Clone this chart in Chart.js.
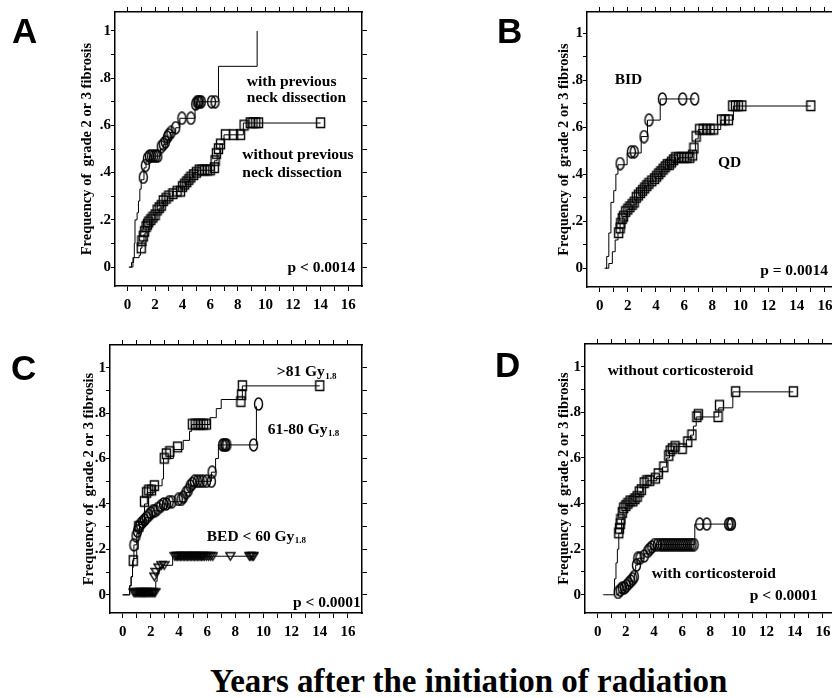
<!DOCTYPE html>
<html>
<head>
<meta charset="utf-8">
<script src="https://cdn.jsdelivr.net/npm/chart.js@4.4.1/dist/chart.umd.min.js"></script>
<style>
  html, body { margin: 0; padding: 0; background: #fff; width: 832px; height: 698px; overflow: hidden; position: relative; }
  canvas { position: absolute; }
  .letter { position: absolute; font: bold 35px "Liberation Sans", Arial, sans-serif; line-height: 1; }
  #xtitle { position: absolute; left: 210px; top: 665px; white-space: nowrap;
            font: bold 33px "Liberation Serif", "Times New Roman", serif; line-height: 1; }
</style>
</head>
<body>
<div id="xtitle">Years after the initiation of radiation</div>
<script>
// axis ticks shared by all four panels
const xTicks = [0, 1, 2, 3, 4, 5, 6, 7, 8, 9, 10, 11, 12, 13, 14, 15, 16];
const xTickLabels = ['0', '', '2', '', '4', '', '6', '', '8', '', '10', '', '12', '', '14', '', '16'];
const yTicks = [0, 0.1, 0.2, 0.3, 0.4, 0.5, 0.6, 0.7, 0.8, 0.9, 1];
const yTickLabels = ['0', '', '.2', '', '.4', '', '.6', '', '.8', '', '1'];

// A: previous neck dissection
const aWithSteps = [[0.1, 0], [0.35, 0], [0.4, 0.04], [0.5, 0.1], [0.55, 0.2], [0.7, 0.23], [0.8, 0.28], [0.9, 0.33],
  [1.0, 0.37], [1.2, 0.42], [1.35, 0.45], [1.6, 0.47], [2.4, 0.5], [2.6, 0.52], [2.9, 0.54], [3.1, 0.57], [3.5, 0.59],
  [3.8, 0.63], [4.9, 0.67], [5.0, 0.70], [6.6, 0.85], [9.4, 1.0]];
const aWithCens = [[1.15, 0.38], [1.3, 0.43], [1.45, 0.46], [1.6, 0.47], [1.75, 0.47], [1.9, 0.47], [2.05, 0.47],
  [2.2, 0.47], [2.45, 0.51], [2.6, 0.52], [2.75, 0.53], [2.9, 0.55], [3.0, 0.56], [3.15, 0.57], [3.5, 0.59],
  [3.95, 0.63], [4.6, 0.63], [4.95, 0.69], [5.05, 0.70], [5.15, 0.70], [5.25, 0.70], [5.35, 0.70], [6.1, 0.70],
  [6.35, 0.70]];
const aWithoutSteps = [[0.15, 0], [0.3, 0.02], [0.45, 0.04], [0.85, 0.05], [0.95, 0.08], [1.05, 0.11], [1.2, 0.14],
  [1.35, 0.17], [1.6, 0.2], [2.0, 0.23], [2.3, 0.25], [2.6, 0.28], [2.9, 0.3], [3.3, 0.32], [4.0, 0.34], [4.2, 0.36],
  [4.5, 0.38], [4.8, 0.4], [5.1, 0.41], [6.3, 0.45], [6.5, 0.48], [6.7, 0.52], [7.0, 0.56], [8.4, 0.61], [14, 0.61]];
const aWithoutCens = [[1.0, 0.08], [1.05, 0.11], [1.15, 0.13], [1.25, 0.15], [1.35, 0.17], [1.45, 0.18], [1.55, 0.19],
  [1.7, 0.2], [1.85, 0.21], [2.0, 0.22], [2.15, 0.24], [2.3, 0.25], [2.45, 0.26], [2.6, 0.28], [2.8, 0.29], [3.0, 0.3],
  [3.3, 0.31], [3.6, 0.32], [3.85, 0.32], [4.0, 0.34], [4.15, 0.35], [4.3, 0.36], [4.45, 0.37], [4.6, 0.38],
  [4.8, 0.39], [5.0, 0.4], [5.2, 0.41], [5.4, 0.41], [5.6, 0.41], [5.8, 0.41], [6.0, 0.41], [6.3, 0.42], [6.35, 0.45],
  [6.45, 0.48], [6.6, 0.5], [6.75, 0.52], [7.1, 0.56], [7.7, 0.56], [8.2, 0.56], [8.45, 0.6], [8.9, 0.61],
  [9.1, 0.61], [9.3, 0.61], [9.5, 0.61], [14, 0.61]];

// B: BID vs QD
const bBidSteps = [[0.35, 0], [0.5, 0.05], [0.65, 0.15], [0.8, 0.28], [1.0, 0.33], [1.15, 0.4], [1.3, 0.44],
  [1.95, 0.49], [2.95, 0.56], [3.4, 0.63], [4.3, 0.72], [6.75, 0.72]];
const bBidCens = [[1.45, 0.445], [2.25, 0.495], [2.45, 0.495], [3.15, 0.56], [3.5, 0.63], [4.45, 0.72], [5.9, 0.72],
  [6.75, 0.72]];
const bQdSteps = [[0.45, 0], [0.65, 0.02], [0.9, 0.07], [1.1, 0.12], [1.3, 0.15], [1.45, 0.19], [1.65, 0.22],
  [1.95, 0.25], [2.35, 0.27], [2.6, 0.3], [2.9, 0.33], [3.2, 0.35], [3.5, 0.37], [4.0, 0.39], [4.4, 0.42], [4.9, 0.44],
  [5.3, 0.46], [5.6, 0.47], [6.6, 0.5], [6.8, 0.55], [7.0, 0.59], [8.6, 0.63], [9.5, 0.69], [15, 0.69]];
const bQdCens = [[1.35, 0.15], [1.45, 0.17], [1.5, 0.19], [1.6, 0.21], [1.7, 0.22], [1.85, 0.24], [2.0, 0.25],
  [2.15, 0.26], [2.3, 0.27], [2.45, 0.28], [2.6, 0.3], [2.75, 0.31], [2.9, 0.32], [3.05, 0.33], [3.2, 0.34],
  [3.35, 0.35], [3.5, 0.36], [3.7, 0.37], [3.9, 0.38], [4.05, 0.39], [4.2, 0.4], [4.35, 0.41], [4.5, 0.42],
  [4.65, 0.43], [4.8, 0.44], [4.95, 0.44], [5.1, 0.45], [5.25, 0.46], [5.4, 0.47], [5.6, 0.47], [5.8, 0.47],
  [6.0, 0.47], [6.2, 0.47], [6.4, 0.47], [6.6, 0.48], [6.7, 0.51], [6.85, 0.56], [7.1, 0.59], [7.35, 0.59],
  [7.6, 0.59], [7.85, 0.59], [8.1, 0.59], [8.65, 0.63], [8.9, 0.63], [9.15, 0.63], [9.45, 0.69], [9.65, 0.69],
  [9.85, 0.69], [10.1, 0.69], [15, 0.69]];

// C: BED groups
const cHighSteps = [[0, 0], [0.4, 0], [0.5, 0.04], [0.6, 0.08], [0.7, 0.12], [0.75, 0.16], [1.0, 0.2], [1.1, 0.27],
  [1.2, 0.32], [1.55, 0.4], [1.75, 0.45], [2.25, 0.48], [2.8, 0.51], [2.9, 0.6], [3.6, 0.64], [4.3, 0.68],
  [4.75, 0.72], [4.9, 0.75], [6.2, 0.78], [6.65, 0.82], [7.0, 0.86], [8.5, 0.92], [14, 0.92]];
const cHighCens = [[0.75, 0.15], [1.15, 0.3], [1.55, 0.41], [1.7, 0.45], [1.85, 0.46], [2.05, 0.46], [2.25, 0.48],
  [2.95, 0.6], [3.1, 0.62], [3.35, 0.63], [3.9, 0.65], [4.95, 0.75], [5.15, 0.75], [5.35, 0.75], [5.55, 0.75],
  [5.75, 0.75], [5.95, 0.75], [8.4, 0.85], [8.45, 0.88], [8.5, 0.92], [14, 0.92]];
const cMidSteps = [[0, 0], [0.4, 0], [0.5, 0.04], [0.6, 0.08], [0.7, 0.15], [0.8, 0.22], [1.0, 0.27], [1.2, 0.31],
  [1.6, 0.34], [2.1, 0.37], [2.8, 0.4], [3.4, 0.41], [4.5, 0.45], [4.8, 0.48], [5.2, 0.5], [6.3, 0.54], [6.6, 0.6],
  [6.8, 0.66], [9.5, 0.83]];
const cMidCens = [[0.8, 0.22], [0.95, 0.26], [1.05, 0.28], [1.15, 0.3], [1.25, 0.31], [1.4, 0.32], [1.55, 0.33],
  [1.7, 0.34], [1.85, 0.35], [2.0, 0.36], [2.15, 0.37], [2.3, 0.37], [2.5, 0.38], [2.7, 0.39], [2.9, 0.4], [3.1, 0.4],
  [3.3, 0.41], [3.5, 0.41], [3.95, 0.42], [4.15, 0.42], [4.3, 0.43], [4.5, 0.45], [4.65, 0.46], [4.8, 0.48],
  [4.95, 0.49], [5.1, 0.5], [5.3, 0.5], [5.5, 0.5], [5.7, 0.5], [5.95, 0.5], [6.3, 0.5], [6.35, 0.54], [7.1, 0.66],
  [7.2, 0.66], [7.3, 0.66], [7.4, 0.66], [9.3, 0.66], [9.65, 0.84]];
const cLowSteps = [[0.7, 0], [2.3, 0], [2.35, 0.06], [2.45, 0.1], [2.6, 0.12], [2.9, 0.13], [3.55, 0.17], [9.4, 0.17]];
const cLowCens = [[0.8, 0.01], [0.88, 0.01], [0.95, 0.01], [1.03, 0.01], [1.1, 0.01], [1.18, 0.01], [1.25, 0.01],
  [1.33, 0.01], [1.4, 0.01], [1.48, 0.01], [1.55, 0.01], [1.63, 0.01], [1.7, 0.01], [1.78, 0.01], [1.85, 0.01],
  [1.93, 0.01], [2.0, 0.01], [2.08, 0.01], [2.15, 0.01], [2.23, 0.01], [2.3, 0.01], [2.25, 0.08], [2.35, 0.1],
  [2.55, 0.12], [2.75, 0.13], [2.95, 0.13], [3.7, 0.17], [3.8, 0.17], [3.9, 0.17], [4.0, 0.17], [4.1, 0.17],
  [4.2, 0.17], [4.3, 0.17], [4.4, 0.17], [4.5, 0.17], [4.6, 0.17], [4.7, 0.17], [4.8, 0.17], [4.9, 0.17], [5.0, 0.17],
  [5.1, 0.17], [5.2, 0.17], [5.3, 0.17], [5.4, 0.17], [5.5, 0.17], [5.6, 0.17], [5.7, 0.17], [5.8, 0.17],
  [5.95, 0.17], [6.1, 0.17], [6.25, 0.17], [6.4, 0.17], [7.65, 0.17], [9.0, 0.17], [9.1, 0.17], [9.2, 0.17],
  [9.3, 0.17]];

// D: corticosteroid
const dWithoutSteps = [[0.4, 0], [1.1, 0], [1.2, 0.07], [1.3, 0.14], [1.4, 0.2], [1.5, 0.27], [1.7, 0.33], [1.8, 0.37],
  [2.0, 0.4], [2.7, 0.43], [3.0, 0.45], [3.2, 0.48], [3.5, 0.5], [4.2, 0.52], [4.6, 0.56], [4.9, 0.6], [5.1, 0.63],
  [5.4, 0.65], [6.3, 0.68], [6.6, 0.7], [6.8, 0.74], [7.0, 0.78], [8.6, 0.82], [9.6, 0.89], [13.9, 0.89]];
const dWithoutCens = [[1.5, 0.27], [1.55, 0.29], [1.6, 0.31], [1.65, 0.33], [1.75, 0.36], [1.85, 0.38], [2.0, 0.39],
  [2.15, 0.4], [2.3, 0.41], [2.5, 0.41], [2.65, 0.42], [2.8, 0.43], [2.95, 0.45], [3.1, 0.46], [3.3, 0.49],
  [3.5, 0.5], [3.7, 0.5], [4.1, 0.51], [4.3, 0.53], [4.7, 0.56], [5.05, 0.61], [5.15, 0.63], [5.3, 0.64],
  [5.5, 0.65], [6.0, 0.64], [6.4, 0.67], [6.7, 0.7], [7.05, 0.78], [7.15, 0.79], [8.55, 0.78], [8.65, 0.83],
  [9.8, 0.89], [13.9, 0.89]];
const dWithSteps = [[1.3, 0], [1.5, 0.01], [1.7, 0.02], [2.0, 0.04], [2.3, 0.06], [2.6, 0.09], [2.7, 0.13],
  [2.85, 0.16], [3.3, 0.18], [3.7, 0.2], [4.1, 0.22], [6.9, 0.31], [9.5, 0.31]];
const dWithCens = [[1.45, 0.01], [1.6, 0.02], [1.75, 0.03], [1.9, 0.03], [2.05, 0.04], [2.2, 0.05], [2.35, 0.06],
  [2.5, 0.07], [2.6, 0.08], [2.75, 0.13], [2.85, 0.16], [3.0, 0.16], [3.3, 0.17], [3.55, 0.19], [3.7, 0.2],
  [3.85, 0.21], [4.05, 0.22], [4.25, 0.22], [4.45, 0.22], [4.6, 0.22], [4.75, 0.22], [4.9, 0.22], [5.05, 0.22],
  [5.2, 0.22], [5.35, 0.22], [5.5, 0.22], [5.65, 0.22], [5.8, 0.22], [5.95, 0.22], [6.1, 0.22], [6.25, 0.22],
  [6.4, 0.22], [6.55, 0.22], [6.7, 0.22], [6.85, 0.22], [7.25, 0.31], [7.75, 0.31], [9.3, 0.31], [9.4, 0.31],
  [9.5, 0.31]];

const serif = '"Liberation Serif", "Times New Roman", serif';

// open marker glyphs used for censored cases
function marker(kind) {
  const c = document.createElement('canvas');
  c.width = 11; c.height = 14;
  const g = c.getContext('2d');
  g.strokeStyle = '#000';
  g.lineWidth = 1.4;
  g.beginPath();
  if (kind === 'ellipse') {
    g.ellipse(5.5, 7, 4, 6, 0, 0, Math.PI * 2);
  } else if (kind === 'square') {
    g.rect(1.5, 2, 8, 9.5);
  } else {
    g.moveTo(1, 3.5); g.lineTo(10, 3.5); g.lineTo(5.5, 11); g.closePath();
  }
  g.stroke();
  return c;
}
const markers = { ellipse: marker('ellipse'), square: marker('square'), triangle: marker('triangle') };

const toXY = arr => arr.map(([x, y]) => ({ x, y }));

// text inside the plot area, placed in data units
const notesPlugin = {
  id: 'notes',
  afterDatasetsDraw(chart, args, opts) {
    const { ctx } = chart;
    const sx = chart.scales.x, sy = chart.scales.y;
    ctx.save();
    ctx.fillStyle = '#000';
    ctx.textBaseline = 'middle';
    ctx.textAlign = 'left';
    (opts.items || []).forEach(n => {
      let px = sx.getPixelForValue(n.x);
      const py = sy.getPixelForValue(n.y);
      ctx.font = 'bold 15.5px ' + serif;
      ctx.fillText(n.text, px, py);
      if (n.sub) {
        px += ctx.measureText(n.text).width + 0.5;
        ctx.font = 'bold 9px ' + serif;
        ctx.fillText(n.sub, px, py + 4);
      }
    });
    ctx.restore();
  }
};

const panels = [
  { letter: 'A', box: [115, 12, 247, 274], yMax: 1.08, titleGap: 27, lx: 12, ly: 13,
    series: [[aWithSteps, aWithCens, 'ellipse'], [aWithoutSteps, aWithoutCens, 'square']],
    notes: [{ text: 'with previous', x: 8.65, y: 0.785 }, { text: 'neck dissection', x: 8.65, y: 0.715 },
            { text: 'without previous', x: 8.33, y: 0.475 }, { text: 'neck dissection', x: 8.33, y: 0.40 },
            { text: 'p < 0.0014', x: 11.6, y: -0.005 }] },
  { letter: 'B', box: [587, 12, 252, 275], yMax: 1.09, titleGap: 22, lx: 497, ly: 13,
    series: [[bBidSteps, bBidCens, 'ellipse'], [bQdSteps, bQdCens, 'square']],
    notes: [{ text: 'BID', x: 1.07, y: 0.8 }, { text: 'QD', x: 8.4, y: 0.447 },
            { text: 'p = 0.0014', x: 11.4, y: -0.01 }] },
  { letter: 'C', box: [110, 345, 252, 268], yMax: 1.1, titleGap: 20, lx: 11, ly: 350,
    series: [[cHighSteps, cHighCens, 'square'], [cMidSteps, cMidCens, 'ellipse'], [cLowSteps, cLowCens, 'triangle']],
    notes: [{ text: '>81 Gy', sub: '1.8', x: 10.95, y: 0.98 }, { text: '61-80 Gy', sub: '1.8', x: 10.3, y: 0.727 },
            { text: 'BED < 60 Gy', sub: '1.8', x: 5.97, y: 0.255 }, { text: 'p < 0.0001', x: 12.1, y: -0.035 }] },
  { letter: 'D', box: [585, 344, 252, 269], yMax: 1.1, titleGap: 20, lx: 495, ly: 347,
    series: [[dWithoutSteps, dWithoutCens, 'square'], [dWithSteps, dWithCens, 'ellipse']],
    notes: [{ text: 'without corticosteroid', x: 0.71, y: 0.98 }, { text: 'with corticosteroid', x: 3.84, y: 0.093 },
            { text: 'p < 0.0001', x: 10.8, y: -0.004 }] }
];

const L = 114, T = 12, R = 40, B = 36;
const tickFont = { family: serif, weight: 'bold', size: 15 };

function axis(position, extra) {
  return Object.assign({
    type: 'linear',
    position,
    border: { display: true, color: '#000', width: 1.5 },
    grid: { drawOnChartArea: false, drawTicks: true, tickLength: 5, color: '#000', tickWidth: 1 },
    ticks: { display: false }
  }, extra);
}

panels.forEach(p => {
  const [bx, by, bw, bh] = p.box;
  const canvas = document.createElement('canvas');
  canvas.width = L + bw + R;
  canvas.height = T + bh + B;
  canvas.style.left = (bx - L) + 'px';
  canvas.style.top = (by - T) + 'px';
  document.body.appendChild(canvas);

  const letter = document.createElement('div');
  letter.className = 'letter';
  letter.textContent = p.letter;
  letter.style.left = p.lx + 'px';
  letter.style.top = p.ly + 'px';
  document.body.appendChild(letter);

  const datasets = [];
  p.series.forEach(([steps, cens, kind]) => {
    datasets.push({ type: 'line', data: toXY(steps), stepped: true, borderColor: '#000', borderWidth: 1,
                    pointRadius: 0, fill: false, tension: 0 });
    datasets.push({ type: 'scatter', data: toXY(cens), showLine: false, pointStyle: markers[kind],
                    pointRadius: 5 });
  });

  const xSet = a => { a.ticks = xTicks.map(v => ({ value: v })); };
  const ySet = a => { a.ticks = yTicks.map(v => ({ value: v })); };

  new Chart(canvas, {
    type: 'scatter',
    data: { datasets },
    options: {
      responsive: false,
      animation: false,
      events: [],
      layout: { padding: 0 },
      plugins: { legend: { display: false }, tooltip: { enabled: false }, notes: { items: p.notes } },
      scales: {
        x: axis('bottom', {
          min: -0.9, max: 17, afterBuildTicks: xSet, afterFit: a => { a.height = B; },
          ticks: { display: true, autoSkip: false, maxRotation: 0, padding: 5, color: '#000', font: tickFont,
                   callback: (v, i) => xTickLabels[i] }
        }),
        xTop: axis('top', { min: -0.9, max: 17, afterBuildTicks: xSet, afterFit: a => { a.height = T; } }),
        y: axis('left', {
          min: -0.08, max: p.yMax, afterBuildTicks: ySet, afterFit: a => { a.width = L; },
          grid: { drawOnChartArea: false, tickLength: 4, color: '#000', tickWidth: 1 },
          ticks: { display: true, autoSkip: false, padding: 0, color: '#000', font: tickFont,
                   callback: (v, i) => yTickLabels[i] },
          title: { display: true, text: 'Frequency of  grade 2 or 3 fibrosis', color: '#000',
                   font: { family: serif, weight: 'bold', size: 14.5 },
                   padding: { top: L - p.titleGap - 9, bottom: 0 } }
        }),
        yRight: axis('right', { min: -0.08, max: p.yMax, afterBuildTicks: ySet, afterFit: a => { a.width = R; } })
      }
    },
    plugins: [notesPlugin]
  });
});
</script>
</body>
</html>
